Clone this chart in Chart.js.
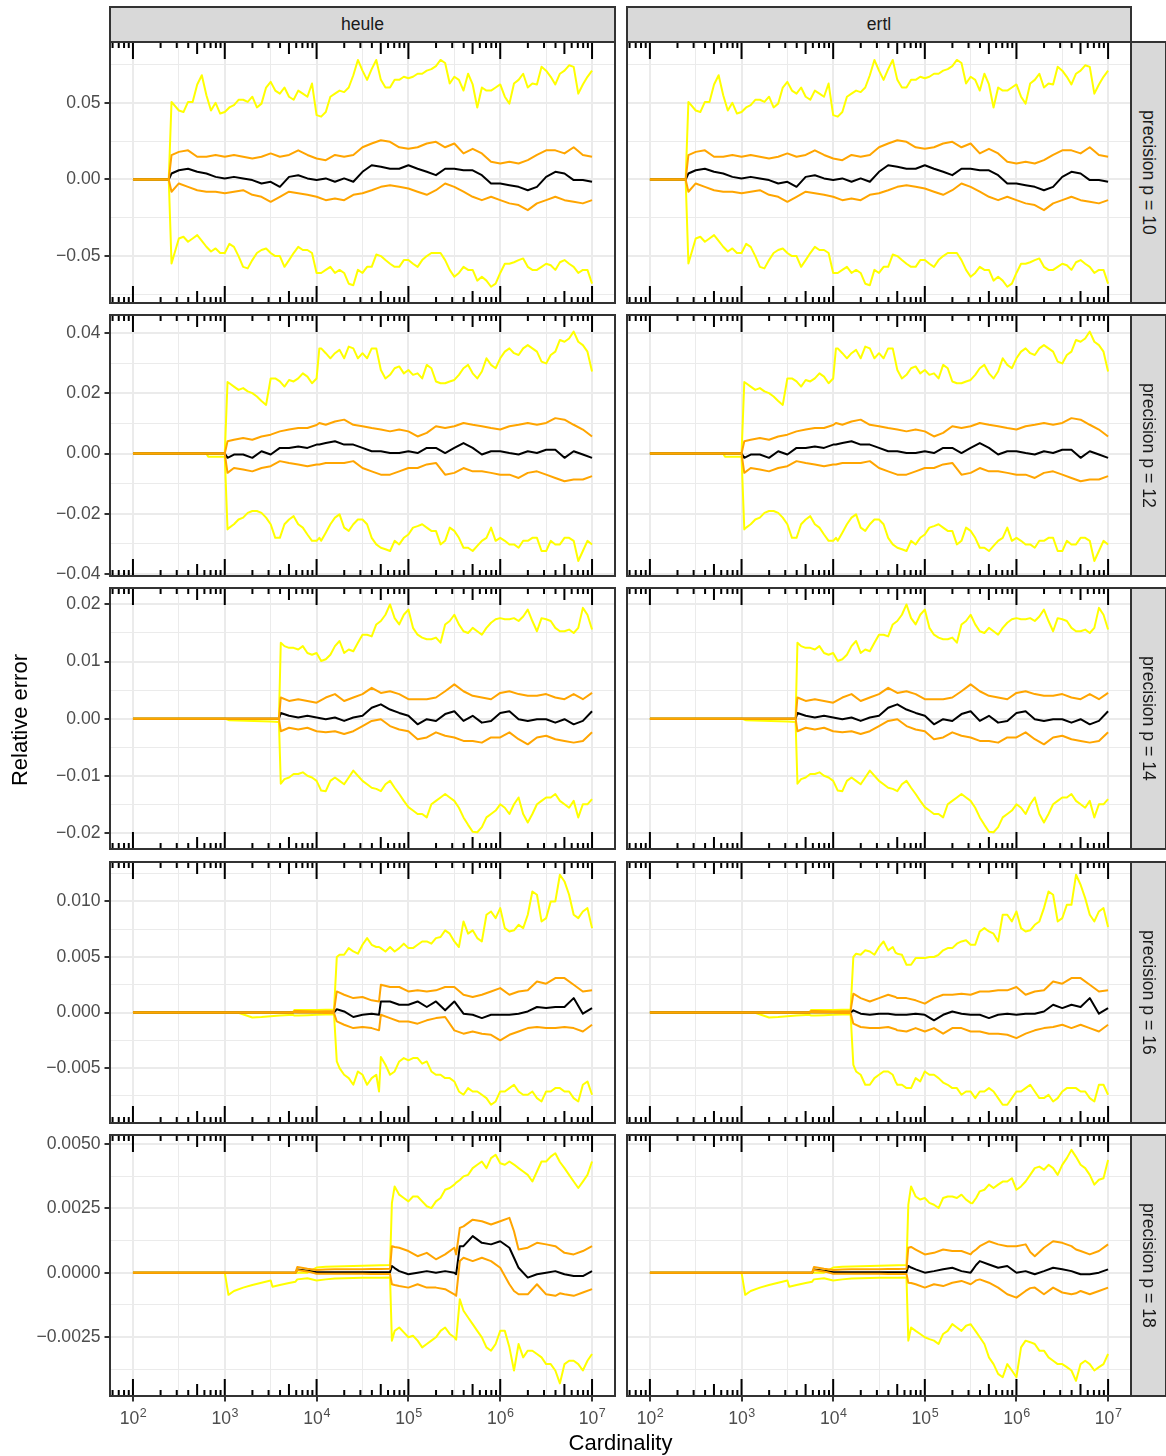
<!DOCTYPE html>
<html>
<head>
<meta charset="utf-8">
<title>Relative error vs cardinality</title>
<script src="https://cdn.jsdelivr.net/npm/chart.js@4.4.1/dist/chart.umd.min.js"></script>
<style>
  body { margin: 0; background: #fff; }
  #fig { position: relative; width: 1166px; height: 1456px; overflow: hidden; font-family: "Liberation Sans", Arial, sans-serif; }
  #fig canvas { position: absolute; }
  .strip { position: absolute; box-sizing: border-box; background: #d9d9d9; border: 2px solid #333; color: #1a1a1a; font-size: 17.6px; display: flex; align-items: center; justify-content: center; white-space: nowrap; }
  .side { writing-mode: vertical-rl; }
  .title { position: absolute; color: #000; font-size: 22px; line-height: 26px; text-align: center; white-space: nowrap; }
</style>
</head>
<body>
<div id="fig"></div>
<script>
// x positions are log10(cardinality)
const xMajor = [2, 3, 4, 5, 6, 7];
const xMinor = [2.5, 3.5, 4.5, 5.5, 6.5];
const xExponents = ['2', '3', '4', '5', '6', '7'];
const xRange = [1.75, 7.25];
const logTickSteps = [1, 2, 3, 4, 5, 6, 7, 8, 9];

const colLabels = ['heule', 'ertl'];
const rowLabels = ['precision p = 10', 'precision p = 12', 'precision p = 14', 'precision p = 16', 'precision p = 18'];

// y axes per precision
const yRangeP10 = [-0.0806, 0.0897];
const yMajorP10 = [-0.05, 0, 0.05];
const yLabelsP10 = ['−0.05', '0.00', '0.05'];
const yMinorP10 = [-0.075, -0.025, 0.025, 0.075];

const yRangeP12 = [-0.0407, 0.0461];
const yMajorP12 = [-0.04, -0.02, 0, 0.02, 0.04];
const yLabelsP12 = ['−0.04', '−0.02', '0.00', '0.02', '0.04'];
const yMinorP12 = [-0.03, -0.01, 0.01, 0.03];

const yRangeP14 = [-0.02283, 0.02288];
const yMajorP14 = [-0.02, -0.01, 0, 0.01, 0.02];
const yLabelsP14 = ['−0.02', '−0.01', '0.00', '0.01', '0.02'];
const yMinorP14 = [-0.015, -0.005, 0.005, 0.015];

const yRangeP16 = [-0.00994, 0.01355];
const yMajorP16 = [-0.005, 0, 0.005, 0.01];
const yLabelsP16 = ['−0.005', '0.000', '0.005', '0.010'];
const yMinorP16 = [-0.0075, -0.0025, 0.0025, 0.0075, 0.0125];

const yRangeP18 = [-0.00479, 0.005348];
const yMajorP18 = [-0.0025, 0, 0.0025, 0.005];
const yLabelsP18 = ['−0.0025', '0.0000', '0.0025', '0.0050'];
const yMinorP18 = [-0.00375, -0.00125, 0.00125, 0.00375];

// p = 10 (heule and ertl look the same); yellow lines read on a finer grid
const xP10 = [2.0, 2.1, 2.2, 2.3, 2.39, 2.42, 2.5, 2.6, 2.7, 2.8, 2.9, 3.0, 3.1, 3.2, 3.3, 3.4, 3.5, 3.6, 3.7, 3.8, 3.9, 4.0, 4.1, 4.2, 4.3, 4.4, 4.5, 4.6, 4.7, 4.8, 4.9, 5.0, 5.1, 5.2, 5.3, 5.4, 5.5, 5.6, 5.7, 5.8, 5.9, 6.0, 6.1, 6.2, 6.3, 6.4, 6.5, 6.6, 6.7, 6.8, 6.9, 7.0];
const xP10Y = [2.0, 2.1, 2.2, 2.3, 2.39, 2.42,
  2.5, 2.55, 2.6, 2.65, 2.7, 2.75, 2.8, 2.85, 2.9, 2.95, 3.0, 3.05, 3.1, 3.15, 3.2, 3.25, 3.3, 3.35, 3.4, 3.45,
  3.5, 3.55, 3.6, 3.65, 3.7, 3.75, 3.8, 3.85, 3.9, 3.95, 4.0, 4.05, 4.1, 4.15, 4.2, 4.25, 4.3, 4.35, 4.4, 4.45,
  4.5, 4.55, 4.6, 4.65, 4.7, 4.75, 4.8, 4.85, 4.9, 4.95, 5.0, 5.05, 5.1, 5.15, 5.2, 5.25, 5.3, 5.35, 5.4, 5.45,
  5.5, 5.55, 5.6, 5.65, 5.7, 5.75, 5.8, 5.85, 5.9, 5.95, 6.0, 6.05, 6.1, 6.15, 6.2, 6.25, 6.3, 6.35, 6.4, 6.45,
  6.5, 6.55, 6.6, 6.65, 6.7, 6.75, 6.8, 6.85, 6.9, 6.95, 7.0];
const p10Hi95 = [0, 0, 0, 0, 0, 0.0506,
  0.045, 0.044, 0.0506, 0.0506, 0.062, 0.068, 0.055, 0.045, 0.050, 0.043,
  0.044, 0.047, 0.0485, 0.052, 0.052, 0.0506, 0.054, 0.047, 0.0495, 0.060,
  0.0637, 0.058, 0.056, 0.060, 0.054, 0.052, 0.058, 0.056, 0.054, 0.0626,
  0.042, 0.041, 0.044, 0.054, 0.056, 0.058, 0.057, 0.060, 0.068, 0.078,
  0.071, 0.065, 0.072, 0.078, 0.065, 0.060, 0.060, 0.065, 0.065, 0.067,
  0.066, 0.067, 0.069, 0.069, 0.071, 0.072, 0.074, 0.078, 0.076, 0.0626,
  0.067, 0.065, 0.058, 0.069, 0.062, 0.047, 0.060, 0.058, 0.058, 0.060,
  0.062, 0.054, 0.0495, 0.0626, 0.065, 0.069, 0.060, 0.0626, 0.062, 0.0735,
  0.071, 0.067, 0.062, 0.069, 0.071, 0.0745, 0.0735, 0.056, 0.062, 0.067,
  0.071];
const p10Hi50 = [0, 0, 0, 0, 0, 0.0159, 0.018, 0.019, 0.0148, 0.0148, 0.0159, 0.0148, 0.016, 0.0148, 0.0137, 0.0148, 0.017, 0.0148, 0.016, 0.019, 0.016, 0.0137, 0.0126, 0.016, 0.0148, 0.016, 0.021, 0.0235, 0.0256, 0.0246, 0.021, 0.020, 0.021, 0.0235, 0.0246, 0.021, 0.0235, 0.017, 0.020, 0.017, 0.0115, 0.0104, 0.0115, 0.0104, 0.0126, 0.016, 0.019, 0.019, 0.017, 0.021, 0.016, 0.0148];
const p10Med = [0, 0, 0, 0, 0, 0.0039, 0.006, 0.007, 0.005, 0.0039, 0.0017, 0.0007, 0.0017, 0.0007, -0.0004, -0.0026, -0.0015, -0.0048, 0.0017, 0.0028, 0.0007, -0.0004, 0.0007, -0.0015, 0.0007, -0.0015, 0.005, 0.0093, 0.0083, 0.007, 0.007, 0.0093, 0.007, 0.005, 0.0028, 0.007, 0.007, 0.006, 0.006, 0.0028, -0.0026, -0.0026, -0.0037, -0.0048, -0.007, -0.0048, 0.0017, 0.005, 0.0039, -0.0004, -0.0004, -0.0015];
const p10Lo50 = [0, 0, 0, 0, 0, -0.008, -0.0026, -0.0048, -0.007, -0.008, -0.008, -0.009, -0.008, -0.007, -0.010, -0.0113, -0.0146, -0.0113, -0.008, -0.009, -0.010, -0.0113, -0.0135, -0.0124, -0.0135, -0.010, -0.009, -0.007, -0.0048, -0.0037, -0.0048, -0.0059, -0.008, -0.010, -0.007, -0.0026, -0.0048, -0.008, -0.0113, -0.0135, -0.0113, -0.0135, -0.0156, -0.0167, -0.020, -0.0156, -0.0135, -0.0113, -0.0135, -0.0146, -0.0156, -0.0135];
const p10Lo95 = [0, 0, 0, 0, 0, -0.0548,
  -0.0385, -0.0374, -0.0406, -0.0385, -0.0363, -0.040, -0.0439, -0.047, -0.045, -0.048,
  -0.048, -0.042, -0.044, -0.050, -0.057, -0.058, -0.0526, -0.048, -0.046, -0.045,
  -0.048, -0.050, -0.050, -0.057, -0.0526, -0.048, -0.044, -0.046, -0.046, -0.048,
  -0.061, -0.061, -0.059, -0.057, -0.061, -0.059, -0.061, -0.068, -0.069, -0.059,
  -0.061, -0.057, -0.057, -0.049, -0.050, -0.0526, -0.055, -0.057, -0.057, -0.0526,
  -0.0526, -0.055, -0.057, -0.0526, -0.050, -0.048, -0.048, -0.048, -0.0526, -0.059,
  -0.0635, -0.061, -0.057, -0.059, -0.059, -0.066, -0.0635, -0.066, -0.070, -0.068,
  -0.061, -0.055, -0.055, -0.054, -0.0526, -0.0515, -0.057, -0.059, -0.059, -0.057,
  -0.055, -0.056, -0.059, -0.054, -0.0526, -0.055, -0.057, -0.061, -0.059, -0.059,
  -0.068];

// p = 12
const xP12 = [2.0, 2.1, 2.2, 2.3, 2.4, 2.5, 2.6, 2.7, 2.8, 2.82, 3.0, 3.03, 3.1, 3.2, 3.3, 3.4, 3.5, 3.6, 3.7, 3.8, 3.9, 4.0, 4.03, 4.1, 4.2, 4.3, 4.4, 4.5, 4.6, 4.7, 4.8, 4.9, 5.0, 5.1, 5.2, 5.3, 5.4, 5.5, 5.6, 5.7, 5.8, 5.9, 6.0, 6.1, 6.2, 6.3, 6.4, 6.5, 6.6, 6.7, 6.8, 6.9, 7.0];
const xP12Y = [2.0, 2.1, 2.2, 2.3, 2.4, 2.5, 2.6, 2.7, 2.8, 2.82, 3.0, 3.03,
  3.05, 3.1, 3.15, 3.2, 3.25, 3.3, 3.35, 3.4, 3.45, 3.5, 3.55, 3.6, 3.65, 3.7, 3.75, 3.8, 3.85, 3.9, 3.95, 4.0,
  4.03,
  4.05, 4.1, 4.15, 4.2, 4.25, 4.3, 4.35, 4.4, 4.45, 4.5, 4.55, 4.6, 4.65, 4.7, 4.75, 4.8, 4.85, 4.9, 4.95, 5.0,
  5.05, 5.1, 5.15, 5.2, 5.25, 5.3, 5.35, 5.4, 5.45, 5.5, 5.55, 5.6, 5.65, 5.7, 5.75, 5.8, 5.85, 5.9, 5.95, 6.0,
  6.05, 6.1, 6.15, 6.2, 6.25, 6.3, 6.35, 6.4, 6.45, 6.5, 6.55, 6.6, 6.65, 6.7, 6.75, 6.8, 6.85, 6.9, 6.95, 7.0];
const p12Hi95 = [0, 0, 0, 0, 0, 0, 0, 0, 0, 0, 0, 0.0238,
  0.0234, 0.0223, 0.0212, 0.0218, 0.0207, 0.0201, 0.019, 0.0175, 0.0162, 0.025, 0.025, 0.024, 0.0223, 0.0245, 0.024, 0.025, 0.0267, 0.0256, 0.0234, 0.025,
  0.035,
  0.035, 0.0334, 0.0317, 0.0334, 0.0345, 0.0317, 0.0356, 0.035, 0.0317, 0.0334, 0.0317, 0.035, 0.035, 0.0278, 0.025, 0.0262, 0.0284, 0.029, 0.0267, 0.0278,
  0.0262, 0.0267, 0.025, 0.0295, 0.0284, 0.024, 0.0234, 0.0234, 0.024, 0.0245, 0.0262, 0.0284, 0.0295, 0.0267, 0.025, 0.0273, 0.0317, 0.0295, 0.0284, 0.0317,
  0.0339, 0.035, 0.0334, 0.0328, 0.035, 0.0361, 0.035, 0.0339, 0.0306, 0.030, 0.0328, 0.0339, 0.0378, 0.0372, 0.0383, 0.0406, 0.0372, 0.0361, 0.0339, 0.0273];
const p12Hi50 = [0, 0, 0, 0, 0, 0, 0, 0, 0, 0, 0, 0.0041, 0.0046, 0.0052, 0.0046, 0.0057, 0.0063, 0.0074, 0.008, 0.0085, 0.0085, 0.0095, 0.0102, 0.0096, 0.0107, 0.0113, 0.0096, 0.0091, 0.0085, 0.008, 0.0074, 0.008, 0.0074, 0.0057, 0.0069, 0.0091, 0.0085, 0.0091, 0.0102, 0.0096, 0.0091, 0.0085, 0.008, 0.0091, 0.0096, 0.0102, 0.0096, 0.0102, 0.0118, 0.0113, 0.0096, 0.008, 0.0057];
const p12Med = [0, 0, 0, 0, 0, 0, 0, 0, 0, 0, 0, -0.0014, -0.0003, -0.0003, -0.0014, 0.0008, -0.0003, 0.0019, 0.0019, 0.0024, 0.0019, 0.003, 0.003, 0.0035, 0.0041, 0.003, 0.003, 0.0019, 0.0008, 0.0008, 0.0002, 0.0002, 0.0008, 0.0002, 0.0019, 0.0019, 0.0002, 0.0019, 0.0035, 0.0019, -0.0003, 0.0008, 0.0008, 0.0002, -0.0003, 0.0008, 0.0002, 0.0013, 0.0013, -0.0014, 0.0008, -0.0003, -0.0014];
const p12Lo50 = [0, 0, 0, 0, 0, 0, 0, 0, 0, 0, 0, -0.0064, -0.0048, -0.0053, -0.0059, -0.0048, -0.0042, -0.0025, -0.0031, -0.0036, -0.0042, -0.0036, -0.0036, -0.0031, -0.0031, -0.0031, -0.0025, -0.0048, -0.0059, -0.007, -0.007, -0.0059, -0.0048, -0.0048, -0.0036, -0.0031, -0.007, -0.0064, -0.0048, -0.0059, -0.0059, -0.0064, -0.007, -0.007, -0.0081, -0.0064, -0.0059, -0.007, -0.0081, -0.0092, -0.0086, -0.0086, -0.0075];
const p12Lo95 = [0, 0, 0, 0, 0, 0, 0, 0, 0, -0.001, -0.001, -0.0252,
  -0.0246, -0.0235, -0.0219, -0.0213, -0.0197, -0.0191, -0.0191, -0.0197, -0.0213, -0.0235, -0.028, -0.028, -0.0235, -0.0219, -0.0208, -0.0235, -0.0246, -0.0269, -0.029, -0.029,
  -0.028,
  -0.029, -0.0263, -0.0235, -0.0213, -0.0202, -0.0246, -0.0257, -0.0235, -0.0219, -0.0219, -0.0235, -0.028, -0.0302, -0.0313, -0.0318, -0.0324, -0.029, -0.0302, -0.028, -0.0269,
  -0.0246, -0.0241, -0.0235, -0.0246, -0.0257, -0.0257, -0.0302, -0.029, -0.0246, -0.0257, -0.028, -0.0313, -0.0313, -0.0324, -0.0307, -0.029, -0.028, -0.0246, -0.029, -0.028,
  -0.029, -0.0302, -0.0302, -0.0313, -0.029, -0.029, -0.028, -0.028, -0.0324, -0.0324, -0.029, -0.0302, -0.0302, -0.028, -0.028, -0.029, -0.0357, -0.0324, -0.029, -0.0302];

// p = 14
const xP14 = [2.0, 2.1, 2.2, 2.3, 2.4, 2.5, 2.6, 2.7, 2.8, 2.9, 3.0, 3.05, 3.5, 3.59, 3.61, 3.7, 3.8, 3.9, 4.0, 4.1, 4.2, 4.3, 4.4, 4.5, 4.6, 4.7, 4.8, 4.9, 5.0, 5.1, 5.2, 5.3, 5.4, 5.5, 5.6, 5.7, 5.8, 5.9, 6.0, 6.1, 6.2, 6.3, 6.4, 6.5, 6.6, 6.7, 6.8, 6.9, 7.0];
const xP14Y = [2.0, 2.1, 2.2, 2.3, 2.4, 2.5, 2.6, 2.7, 2.8, 2.9, 3.0, 3.05, 3.5, 3.59, 3.61,
  3.65, 3.7, 3.75, 3.8, 3.85, 3.9, 3.95, 4.0, 4.05, 4.1, 4.15, 4.2, 4.25, 4.3, 4.35, 4.4, 4.45, 4.5, 4.55, 4.6,
  4.65, 4.7, 4.75, 4.8, 4.85, 4.9, 4.95, 5.0, 5.05, 5.1, 5.15, 5.2, 5.25, 5.3, 5.35, 5.4, 5.45, 5.5, 5.55, 5.6,
  5.65, 5.7, 5.75, 5.8, 5.85, 5.9, 5.95, 6.0, 6.05, 6.1, 6.15, 6.2, 6.25, 6.3, 6.35, 6.4, 6.45, 6.5, 6.55, 6.6,
  6.65, 6.7, 6.75, 6.8, 6.85, 6.9, 6.95, 7.0];
const p14Hi95 = [0, 0, 0, 0, 0, 0, 0, 0, 0, 0, 0, 0, 0, 0, 0.0133,
  0.0127, 0.0124, 0.0124, 0.0121, 0.0127, 0.0115, 0.0112, 0.0115, 0.0101, 0.0104, 0.0112, 0.0127, 0.0136, 0.0115, 0.0121, 0.0118, 0.0133, 0.0147, 0.0147, 0.0144,
  0.0165, 0.0171, 0.0182, 0.020, 0.0176, 0.0165, 0.0182, 0.0191, 0.0159, 0.0147, 0.0142, 0.0139, 0.0139, 0.0142, 0.0133, 0.0165, 0.0171, 0.0182, 0.0165, 0.0153,
  0.015, 0.0159, 0.0153, 0.0147, 0.0159, 0.0168, 0.0174, 0.0176, 0.0174, 0.0174, 0.0176, 0.0171, 0.0179, 0.0191, 0.0171, 0.0153, 0.0176, 0.0174, 0.0171, 0.0159,
  0.0153, 0.0153, 0.0156, 0.015, 0.0159, 0.0194, 0.0182, 0.0156];
const p14Hi50 = [0, 0, 0, 0, 0, 0, 0, 0, 0, 0, 0, 0, 0, 0, 0.0037, 0.0031, 0.0034, 0.0031, 0.0028, 0.0037, 0.0043, 0.0031, 0.0037, 0.0043, 0.0054, 0.0045, 0.0048, 0.0043, 0.0034, 0.0034, 0.0034, 0.0037, 0.0048, 0.006, 0.0048, 0.004, 0.0037, 0.0034, 0.0045, 0.0048, 0.0043, 0.004, 0.004, 0.0043, 0.0037, 0.0034, 0.0043, 0.0034, 0.0045];
const p14Med = [0, 0, 0, 0, 0, 0, 0, 0, 0, 0, 0, 0, 0, 0, 0.001, 0.0005, 0.0002, 0.0005, 0.0002, -0.0001, 0.0002, -0.0004, 0.0002, 0.0005, 0.0019, 0.0025, 0.0016, 0.001, 0.0005, -0.001, -0.0001, -0.0004, 0.0008, 0.0013, -0.0004, 0.0005, -0.0007, -0.0004, 0.001, 0.0013, -0.0001, -0.0004, -0.0001, -0.0001, -0.0007, -0.0001, -0.001, -0.0004, 0.0013];
const p14Lo50 = [0, 0, 0, 0, 0, 0, 0, 0, 0, 0, 0, 0, 0, 0, -0.0022, -0.0016, -0.0019, -0.0016, -0.0022, -0.0024, -0.0022, -0.0027, -0.0022, -0.0013, -0.0004, -0.0001, -0.0013, -0.0019, -0.0022, -0.0036, -0.0033, -0.0024, -0.003, -0.0033, -0.0039, -0.0039, -0.0042, -0.0033, -0.0033, -0.0024, -0.0036, -0.0045, -0.0033, -0.003, -0.0036, -0.0039, -0.0042, -0.0039, -0.0024];
const p14Lo95 = [0, 0, 0, 0, 0, 0, 0, 0, 0, 0, 0, -0.0003, -0.0005, -0.0006, -0.0114,
  -0.0106, -0.0103, -0.0097, -0.0097, -0.0094, -0.010, -0.0103, -0.0109, -0.0126, -0.0127, -0.0109, -0.0103, -0.0109, -0.0115, -0.0103, -0.0091, -0.010, -0.0109, -0.0115, -0.0121,
  -0.0123, -0.0127, -0.0115, -0.0109, -0.0121, -0.0132, -0.0144, -0.0155, -0.0161, -0.0167, -0.0167, -0.0173, -0.015, -0.0144, -0.0138, -0.0132, -0.0138, -0.0144, -0.0156, -0.0173,
  -0.0186, -0.0198, -0.0199, -0.019, -0.0173, -0.0167, -0.0161, -0.015, -0.0156, -0.0167, -0.015, -0.0138, -0.0167, -0.0182, -0.0167, -0.015, -0.0144, -0.0138, -0.0138, -0.0132,
  -0.0144, -0.015, -0.0156, -0.0144, -0.0173, -0.015, -0.015, -0.0141];

// p = 16
const xP16 = [2.0, 2.1, 2.2, 2.3, 2.4, 2.5, 2.6, 2.7, 2.8, 2.9, 3.0, 3.1, 3.14, 3.3, 3.4, 3.5, 3.6, 3.7, 3.74, 3.76, 3.8, 3.9, 4.0, 4.1, 4.19, 4.22, 4.3, 4.4, 4.5, 4.6, 4.68, 4.7, 4.8, 4.9, 5.0, 5.1, 5.2, 5.3, 5.4, 5.5, 5.6, 5.7, 5.8, 5.9, 6.0, 6.1, 6.2, 6.3, 6.4, 6.5, 6.6, 6.7, 6.8, 6.9, 7.0];
const xP16Y = [2.0, 2.1, 2.2, 2.3, 2.4, 2.5, 2.6, 2.7, 2.8, 2.9, 3.0, 3.1, 3.14, 3.3, 3.4, 3.5, 3.6, 3.7, 3.74, 3.76, 3.8, 3.9, 4.0, 4.1, 4.19, 4.22,
  4.25, 4.3, 4.35, 4.4, 4.45, 4.5, 4.55, 4.6, 4.65, 4.68, 4.7,
  4.75, 4.8, 4.85, 4.9, 4.95, 5.0, 5.05, 5.1, 5.15, 5.2, 5.25, 5.3, 5.35, 5.4, 5.45, 5.5, 5.55, 5.6, 5.65, 5.7,
  5.75, 5.8, 5.85, 5.9, 5.95, 6.0, 6.05, 6.1, 6.15, 6.2, 6.25, 6.3, 6.35, 6.4, 6.45, 6.5, 6.55, 6.6, 6.65, 6.7,
  6.75, 6.8, 6.85, 6.9, 6.95, 7.0];
const p16HeuleHi95 = [0, 0, 0, 0, 0, 0, 0, 0, 0, 0, 0, 0, 0, 0, 0, 0, 0, 0, 0, 0.00024, 0.00024, 0.00024, 0.00024, 0.00026, 0.00028, 0.005,
  0.0052, 0.0052, 0.0058, 0.0055, 0.0053, 0.0061, 0.0067, 0.0061, 0.0059, 0.0059, 0.0058,
  0.0055, 0.0059, 0.0055, 0.0058, 0.0062, 0.0058, 0.0058, 0.0061, 0.0064, 0.0064, 0.0062, 0.0067, 0.0068, 0.0074, 0.0071, 0.0064, 0.0059, 0.0082, 0.0071, 0.0074,
  0.0067, 0.0064, 0.0088, 0.0091, 0.0085, 0.0094, 0.0076, 0.0073, 0.0074, 0.0079, 0.0076, 0.0088, 0.0109, 0.0106, 0.0082, 0.0085, 0.010, 0.010, 0.0124, 0.0118,
  0.0106, 0.0088, 0.0085, 0.0091, 0.0094, 0.0076];
const p16HeuleHi50 = [0, 0, 0, 0, 0, 0, 0, 0, 0, 0, 0, 0, 0, 0, 0, 0, 0, 0, 0, 0.00015, 0.00015, 0.00012, 0.0001, 0.00012, 0.00015, 0.0019, 0.0016, 0.0013, 0.0014, 0.0011, 0.001, 0.0025, 0.0023, 0.0023, 0.0019, 0.002, 0.0019, 0.002, 0.0023, 0.0023, 0.0016, 0.0014, 0.0016, 0.0019, 0.0022, 0.0016, 0.0019, 0.002, 0.0028, 0.0026, 0.0031, 0.0031, 0.0025, 0.0019, 0.002];
const p16HeuleMed = [0, 0, 0, 0, 0, 0, 0, 0, 0, 0, 0, 0, 0, 0, 0, 0, 0, 0, 0, 0.00005, 0.00003, 0.00002, 0.00002, 0.00002, 0.00002, 0.0003, 0.0001, -0.0004, -0.0002, -0.0001, -0.0002, 0.001, 0.001, 0.0007, 0.0007, 0.001, 0.0005, 0.001, 0.0002, 0.001, -0.0001, -0.0002, -0.0005, -0.0002, -0.0002, -0.0002, -0.0001, 0.0001, 0.0005, 0.0004, 0.0005, 0.0005, 0.0013, -0.0001, 0.0004];
const p16HeuleLo50 = [0, 0, 0, 0, 0, 0, 0, 0, 0, 0, 0, 0, 0, 0, 0, 0, 0, 0, 0, 0.00005, 0, 0, 0, -0.00003, -0.00005, -0.0008, -0.0011, -0.0014, -0.0013, -0.0014, -0.0016, -0.0002, -0.0005, -0.0008, -0.0008, -0.001, -0.0007, -0.0005, -0.0004, -0.0016, -0.0019, -0.0017, -0.0019, -0.002, -0.0025, -0.002, -0.0017, -0.0014, -0.0013, -0.0014, -0.0014, -0.0013, -0.0014, -0.0017, -0.0011];
const p16HeuleLo95 = [0, 0, 0, 0, 0, 0, 0, 0, 0, 0, 0, 0, 0, -0.00045, -0.0004, -0.00033, -0.00027, -0.00022, -0.0002, -0.00027, -0.00027, -0.00024, -0.0002, -0.00018, -0.00015, -0.0044,
  -0.005, -0.0056, -0.0059, -0.0065, -0.0053, -0.0056, -0.0065, -0.0059, -0.0056, -0.0071, -0.004,
  -0.0047, -0.0056, -0.0053, -0.0044, -0.0041, -0.0043, -0.0041, -0.0041, -0.0046, -0.0044, -0.0053, -0.0056, -0.0056, -0.0059, -0.0059, -0.0062, -0.0071, -0.0074, -0.0068, -0.0071,
  -0.0071, -0.0074, -0.0077, -0.0083, -0.008, -0.0071, -0.0071, -0.0068, -0.0065, -0.0071, -0.0074, -0.0074, -0.0071, -0.0077, -0.008, -0.0071, -0.0071, -0.0068, -0.0068, -0.0071,
  -0.0071, -0.0077, -0.008, -0.0065, -0.0062, -0.0074];
const p16ErtlHi95 = [0, 0, 0, 0, 0, 0, 0, 0, 0, 0, 0, 0, 0, 0, 0, 0, 0, 0, 0, 0.00024, 0.00024, 0.00024, 0.00024, 0.00026, 0.00028, 0.005,
  0.0053, 0.0052, 0.0056, 0.0055, 0.0052, 0.0059, 0.0064, 0.0056, 0.0059, 0.0054, 0.0053,
  0.0052, 0.0043, 0.0043, 0.0049, 0.0049, 0.0049, 0.005, 0.005, 0.0052, 0.0056, 0.0058, 0.0058, 0.0062, 0.0064, 0.0065, 0.0061, 0.0061, 0.0073, 0.0076, 0.0073,
  0.0071, 0.0064, 0.0088, 0.0088, 0.0082, 0.0091, 0.0076, 0.0073, 0.0074, 0.0079, 0.0082, 0.0094, 0.0109, 0.0106, 0.0082, 0.0085, 0.0097, 0.0097, 0.0124, 0.0115,
  0.0103, 0.0088, 0.0082, 0.0091, 0.0094, 0.0077];
const p16ErtlHi50 = [0, 0, 0, 0, 0, 0, 0, 0, 0, 0, 0, 0, 0, 0, 0, 0, 0, 0, 0, 0.00015, 0.00015, 0.00012, 0.0001, 0.00012, 0.00015, 0.0017, 0.0013, 0.001, 0.0013, 0.0016, 0.0014, 0.0013, 0.0013, 0.0011, 0.0008, 0.0013, 0.0016, 0.0016, 0.0017, 0.0016, 0.0019, 0.0019, 0.002, 0.002, 0.0023, 0.0016, 0.0019, 0.002, 0.0028, 0.0026, 0.0031, 0.0031, 0.0025, 0.0019, 0.002];
const p16ErtlMed = [0, 0, 0, 0, 0, 0, 0, 0, 0, 0, 0, 0, 0, 0, 0, 0, 0, 0, 0, 0.00005, 0.00003, 0.00002, 0.00002, 0.00002, 0.00002, 0.0002, -0.0001, -0.0002, -0.0001, -0.0001, -0.0002, -0.0002, -0.0002, -0.0001, -0.0002, -0.0007, -0.0002, 0.0001, -0.0001, -0.0002, -0.0002, -0.0005, -0.0002, -0.0001, -0.0002, -0.0001, -0.0001, 0.0001, 0.0007, 0.0004, 0.0007, 0.0005, 0.0013, -0.0001, 0.0004];
const p16ErtlLo50 = [0, 0, 0, 0, 0, 0, 0, 0, 0, 0, 0, 0, 0, 0, 0, 0, 0, 0, 0, 0.00005, 0, 0, 0, -0.00003, -0.00005, -0.001, -0.0013, -0.0014, -0.0014, -0.0013, -0.0015, -0.0016, -0.0017, -0.0014, -0.0017, -0.0014, -0.0019, -0.0014, -0.0014, -0.0017, -0.0017, -0.0019, -0.0019, -0.002, -0.0023, -0.0019, -0.0016, -0.0014, -0.0013, -0.0011, -0.0014, -0.0011, -0.0014, -0.0017, -0.0011];
const p16ErtlLo95 = [0, 0, 0, 0, 0, 0, 0, 0, 0, 0, 0, 0, 0, -0.00045, -0.0004, -0.00033, -0.00027, -0.00022, -0.0002, -0.00027, -0.00027, -0.00024, -0.0002, -0.00018, -0.00015, -0.0047,
  -0.0053, -0.0056, -0.0065, -0.0065, -0.0059, -0.0056, -0.0053, -0.0053, -0.0056, -0.0062, -0.0065,
  -0.0065, -0.0068, -0.0068, -0.0059, -0.0062, -0.0053, -0.0056, -0.0056, -0.0059, -0.0063, -0.0065, -0.0068, -0.0068, -0.0074, -0.0071, -0.0071, -0.0077, -0.0071, -0.0071, -0.0068,
  -0.0071, -0.0077, -0.0083, -0.0083, -0.0077, -0.0071, -0.0071, -0.0068, -0.0065, -0.0071, -0.0077, -0.0077, -0.0074, -0.008, -0.0077, -0.0071, -0.0068, -0.0068, -0.0068, -0.0071,
  -0.0071, -0.0077, -0.008, -0.0065, -0.0065, -0.0074];

// p = 18
const xP18 = [2.0, 2.1, 2.2, 2.3, 2.4, 2.5, 2.6, 2.7, 2.8, 2.9, 3.0, 3.04, 3.1, 3.2, 3.3, 3.4, 3.5, 3.52, 3.6, 3.7, 3.77, 3.79, 3.9, 4.0, 4.1, 4.2, 4.3, 4.4, 4.5, 4.6, 4.7, 4.8, 4.82, 4.85, 4.9, 5.0, 5.1, 5.2, 5.3, 5.4, 5.5, 5.52, 5.56, 5.6, 5.7, 5.8, 5.9, 6.0, 6.1, 6.15, 6.2, 6.3, 6.4, 6.5, 6.6, 6.65, 6.7, 6.8, 6.9, 7.0];
const xP18Y = [2.0, 2.1, 2.2, 2.3, 2.4, 2.5, 2.6, 2.7, 2.8, 2.9, 3.0, 3.04, 3.1, 3.2, 3.3, 3.4, 3.5, 3.52, 3.6, 3.7, 3.77, 3.79, 3.9, 4.0, 4.1, 4.2, 4.3, 4.4, 4.5, 4.6, 4.7, 4.8,
  4.82, 4.85, 4.9, 4.95, 5.0, 5.05, 5.1, 5.15, 5.2, 5.25, 5.3, 5.35, 5.4, 5.45, 5.5, 5.52, 5.56,
  5.6, 5.65, 5.7, 5.75, 5.8, 5.85, 5.9, 5.95, 6.0, 6.05, 6.1, 6.15, 6.2, 6.25, 6.3, 6.35, 6.4, 6.45, 6.5, 6.55,
  6.6, 6.65, 6.7, 6.75, 6.8, 6.85, 6.9, 6.95, 7.0];
const p18HeuleHi95 = [0, 0, 0, 0, 0, 0, 0, 0, 0, 0, 0, 0, 0, 0, 0, 0, 0, 0, 0, 0, 0, 0, 0, 0.0002, 0.00023, 0.00024, 0.00025, 0.00026, 0.00027, 0.00028, 0.00029, 0.0003,
  0.0027, 0.00335, 0.00303, 0.0029, 0.00277, 0.00296, 0.00296, 0.00277, 0.00258, 0.00251, 0.00277, 0.0029, 0.00322, 0.00329, 0.00342, 0.0035, 0.0036,
  0.00374, 0.0038, 0.00406, 0.00419, 0.00432, 0.00406, 0.00445, 0.00458, 0.00425, 0.00419, 0.00432, 0.0042, 0.00406, 0.00393, 0.0038, 0.00354, 0.00393, 0.00432, 0.00432, 0.00451,
  0.00464, 0.0043, 0.00406, 0.0038, 0.00354, 0.00329, 0.00354, 0.0038, 0.00432];
const p18HeuleHi50 = [0, 0, 0, 0, 0, 0, 0, 0, 0, 0, 0, 0, 0, 0, 0, 0, 0, 0, 0, 0, 0, 0.00022, 0.00015, 0.0001, 0.00012, 0.00013, 0.00013, 0.00013, 0.00013, 0.00014, 0.00014, 0.00015, 0.00103, 0.001, 0.00097, 0.00084, 0.00064, 0.00077, 0.00052, 0.00071, 0.00097, 0.00071, 0.00174, 0.0018, 0.00206, 0.002, 0.00187, 0.002, 0.00213, 0.00161, 0.0009, 0.00097, 0.00116, 0.0011, 0.00103, 0.0009, 0.00077, 0.00071, 0.00084, 0.00103];
const p18HeuleMed = [0, 0, 0, 0, 0, 0, 0, 0, 0, 0, 0, 0, 0, 0, 0, 0, 0, 0, 0, 0, 0, 0.00012, 0.00008, 0.00002, 0.00002, 0.00002, 0.00002, 0.00002, 0.00002, 0.00002, 0.00002, 0.00002, 0.00026, 0.00018, 0.00006, -0.00006, 0, 0.00006, 0, 0.00006, 0, -0.00006, 0.00103, 0.00103, 0.00142, 0.00116, 0.0011, 0.00122, 0.00097, 0.00058, 0.00019, -0.00019, -0.00006, 0, 0.00006, 0, -0.00006, -0.00013, -0.00013, 0.00006];
const p18HeuleLo50 = [0, 0, 0, 0, 0, 0, 0, 0, 0, 0, 0, 0, 0, 0, 0, 0, 0, 0, 0, 0, 0, 0.0001, 0.00005, -0.00004, -0.00004, -0.00004, -0.00004, -0.00004, -0.00004, -0.00005, -0.00005, -0.00005, -0.00045, -0.00048, -0.00052, -0.00058, -0.00045, -0.00058, -0.00058, -0.00064, -0.00084, -0.0009, 0.00045, 0.00058, 0.00045, 0.00058, 0.00045, 0.00019, -0.00045, -0.00071, -0.00084, -0.00084, -0.00045, -0.00084, -0.0009, -0.0008, -0.00084, -0.0009, -0.00077, -0.00064];
const p18HeuleLo95 = [0, 0, 0, 0, 0, 0, 0, 0, 0, 0, 0, -0.00086, -0.00071, -0.00058, -0.00048, -0.00039, -0.0003, -0.00055, -0.00048, -0.0004, -0.00035, -0.00026, -0.00022, -0.0003, -0.00026, -0.00023, -0.00022, -0.00021, -0.0002, -0.0002, -0.0002, -0.00019,
  -0.00264, -0.00226, -0.00213, -0.00232, -0.00251, -0.00245, -0.00264, -0.0029, -0.00277, -0.00264, -0.00251, -0.00226, -0.00213, -0.00238, -0.00251, -0.0026, -0.00103,
  -0.00148, -0.00174, -0.002, -0.00226, -0.00251, -0.0029, -0.00303, -0.00277, -0.00226, -0.00226, -0.0029, -0.0038, -0.00277, -0.00329, -0.00303, -0.00303, -0.00316, -0.00329, -0.00355, -0.00355,
  -0.0038, -0.0043, -0.00355, -0.00342, -0.00342, -0.00355, -0.0038, -0.00342, -0.00316];
const p18ErtlHi95 = [0, 0, 0, 0, 0, 0, 0, 0, 0, 0, 0, 0, 0, 0, 0, 0, 0, 0, 0, 0, 0, 0, 0, 0.0002, 0.00023, 0.00024, 0.00025, 0.00026, 0.00027, 0.00028, 0.00029, 0.0003,
  0.00264, 0.00335, 0.00296, 0.00284, 0.0029, 0.00271, 0.00264, 0.00251, 0.0029, 0.00296, 0.00296, 0.0029, 0.00303, 0.00284, 0.00271, 0.0027, 0.0029,
  0.00316, 0.00322, 0.00342, 0.00329, 0.00342, 0.00354, 0.00354, 0.00367, 0.00322, 0.00335, 0.00354, 0.0038, 0.00406, 0.00412, 0.004, 0.00419, 0.00406, 0.0038, 0.00419, 0.00445,
  0.00477, 0.0045, 0.00419, 0.00406, 0.0038, 0.00342, 0.00361, 0.00367, 0.00438];
const p18ErtlHi50 = [0, 0, 0, 0, 0, 0, 0, 0, 0, 0, 0, 0, 0, 0, 0, 0, 0, 0, 0, 0, 0, 0.00022, 0.00015, 0.0001, 0.00012, 0.00013, 0.00013, 0.00013, 0.00013, 0.00014, 0.00014, 0.00015, 0.00097, 0.001, 0.0009, 0.00071, 0.00077, 0.0009, 0.00084, 0.00084, 0.00071, 0.0008, 0.0009, 0.00103, 0.00122, 0.0011, 0.00103, 0.00103, 0.0011, 0.0008, 0.00064, 0.00097, 0.00122, 0.00116, 0.00103, 0.0009, 0.00084, 0.00071, 0.00084, 0.0011];
const p18ErtlMed = [0, 0, 0, 0, 0, 0, 0, 0, 0, 0, 0, 0, 0, 0, 0, 0, 0, 0, 0, 0, 0, 0.00012, 0.00008, 0.00002, 0.00002, 0.00002, 0.00002, 0.00002, 0.00002, 0.00002, 0.00002, 0.00002, 0.00026, 0.0002, 0.00013, 0, 0.00006, 0.00013, 0.00019, 0.00006, 0, 0.0001, 0.0003, 0.00045, 0.00032, 0.00019, 0.00026, 0, 0.00006, 0, -0.00006, 0.00006, 0.00019, 0.00013, 0.00006, 0, -0.00006, -0.00006, 0, 0.00013];
const p18ErtlLo50 = [0, 0, 0, 0, 0, 0, 0, 0, 0, 0, 0, 0, 0, 0, 0, 0, 0, 0, 0, 0, 0, 0.0001, 0.00005, -0.00004, -0.00004, -0.00004, -0.00004, -0.00004, -0.00004, -0.00005, -0.00005, -0.00005, -0.00039, -0.0004, -0.00045, -0.00058, -0.00045, -0.00052, -0.00039, -0.00032, -0.00045, -0.0004, -0.0003, -0.00026, -0.00039, -0.00058, -0.00084, -0.00097, -0.00071, -0.0006, -0.00058, -0.00084, -0.00058, -0.00077, -0.00084, -0.0008, -0.00071, -0.00084, -0.00071, -0.00058];
const p18ErtlLo95 = [0, 0, 0, 0, 0, 0, 0, 0, 0, 0, 0, -0.00086, -0.00071, -0.00058, -0.00048, -0.00039, -0.0003, -0.00055, -0.00048, -0.0004, -0.00035, -0.00026, -0.00022, -0.0003, -0.00026, -0.00023, -0.00022, -0.00021, -0.0002, -0.0002, -0.0002, -0.00019,
  -0.00264, -0.00213, -0.00226, -0.00238, -0.00251, -0.00258, -0.00264, -0.00277, -0.00238, -0.00226, -0.002, -0.00213, -0.00226, -0.00206, -0.002, -0.0021, -0.0023,
  -0.00251, -0.00277, -0.00329, -0.00355, -0.00393, -0.00406, -0.00355, -0.0038, -0.00406, -0.0029, -0.00264, -0.0027, -0.00277, -0.00303, -0.00303, -0.00329, -0.00342, -0.00355, -0.00355, -0.00367,
  -0.0038, -0.0042, -0.00355, -0.00342, -0.00355, -0.0038, -0.00367, -0.00355, -0.00316];

// layout of the facet grid (pixels)
const ROW_TOP = [42, 315, 588, 862, 1135];
const PANEL_H = 261;
const COL_LEFT = [110, 627];
const PANEL_W = [505, 504];

const yAxes = [
  {range: yRangeP10, major: yMajorP10, labels: yLabelsP10, minor: yMinorP10},
  {range: yRangeP12, major: yMajorP12, labels: yLabelsP12, minor: yMinorP12},
  {range: yRangeP14, major: yMajorP14, labels: yLabelsP14, minor: yMinorP14},
  {range: yRangeP16, major: yMajorP16, labels: yLabelsP16, minor: yMinorP16},
  {range: yRangeP18, major: yMajorP18, labels: yLabelsP18, minor: yMinorP18}
];

// series order: hi95, hi50, median, lo50, lo95 (each with its own x list)
const panels = [
  {row: 0, col: 0, x: [xP10Y, xP10, xP10, xP10, xP10Y], s: [p10Hi95, p10Hi50, p10Med, p10Lo50, p10Lo95]},
  {row: 0, col: 1, x: [xP10Y, xP10, xP10, xP10, xP10Y], s: [p10Hi95, p10Hi50, p10Med, p10Lo50, p10Lo95]},
  {row: 1, col: 0, x: [xP12Y, xP12, xP12, xP12, xP12Y], s: [p12Hi95, p12Hi50, p12Med, p12Lo50, p12Lo95]},
  {row: 1, col: 1, x: [xP12Y, xP12, xP12, xP12, xP12Y], s: [p12Hi95, p12Hi50, p12Med, p12Lo50, p12Lo95]},
  {row: 2, col: 0, x: [xP14Y, xP14, xP14, xP14, xP14Y], s: [p14Hi95, p14Hi50, p14Med, p14Lo50, p14Lo95]},
  {row: 2, col: 1, x: [xP14Y, xP14, xP14, xP14, xP14Y], s: [p14Hi95, p14Hi50, p14Med, p14Lo50, p14Lo95]},
  {row: 3, col: 0, x: [xP16Y, xP16, xP16, xP16, xP16Y], s: [p16HeuleHi95, p16HeuleHi50, p16HeuleMed, p16HeuleLo50, p16HeuleLo95]},
  {row: 3, col: 1, x: [xP16Y, xP16, xP16, xP16, xP16Y], s: [p16ErtlHi95, p16ErtlHi50, p16ErtlMed, p16ErtlLo50, p16ErtlLo95]},
  {row: 4, col: 0, x: [xP18Y, xP18, xP18, xP18, xP18Y], s: [p18HeuleHi95, p18HeuleHi50, p18HeuleMed, p18HeuleLo50, p18HeuleLo95]},
  {row: 4, col: 1, x: [xP18Y, xP18, xP18, xP18, xP18Y], s: [p18ErtlHi95, p18ErtlHi50, p18ErtlMed, p18ErtlLo50, p18ErtlLo95]}
];

const fig = document.getElementById('fig');
const TICK_FONT = {family: 'Liberation Sans', size: 17.6};

function isDecade(v) {
  const e = Math.log10(v);
  return Math.abs(e - Math.round(e)) < 1e-6;
}

// panel border + annotation_logticks style ticks, top and bottom
const frame = {
  id: 'frame',
  afterDatasetsDraw(chart) {
    const {ctx, chartArea: a, scales: {x}} = chart;
    ctx.save();
    ctx.beginPath();
    ctx.rect(a.left, a.top, a.right - a.left, a.bottom - a.top);
    ctx.clip();
    ctx.strokeStyle = '#000';
    ctx.lineWidth = 2;
    for (let k = 1; k <= 7; k++) {
      for (const m of logTickSteps) {
        const px = x.getPixelForValue(m * Math.pow(10, k));
        if (px < a.left || px > a.right) continue;
        const len = m === 1 ? 17 : (m === 5 ? 12 : 6);
        ctx.beginPath();
        ctx.moveTo(px, a.top); ctx.lineTo(px, a.top + len);
        ctx.moveTo(px, a.bottom); ctx.lineTo(px, a.bottom - len);
        ctx.stroke();
      }
    }
    ctx.restore();
    ctx.save();
    ctx.strokeStyle = '#333';
    ctx.lineWidth = 2;
    ctx.strokeRect(a.left, a.top, a.right - a.left, a.bottom - a.top);
    ctx.restore();
  }
};

// x labels as 10 with a raised exponent, placed by the x scale
const powerLabels = {
  id: 'powerLabels',
  afterDraw(chart) {
    if (!chart.options.showPowerLabels) return;
    const {ctx, chartArea: a, scales: {x}} = chart;
    ctx.save();
    ctx.fillStyle = '#4d4d4d';
    ctx.textBaseline = 'alphabetic';
    ctx.textAlign = 'left';
    const base = a.bottom + 28;
    xMajor.forEach((e, i) => {
      const px = x.getPixelForValue(Math.pow(10, e));
      ctx.font = '17.6px "Liberation Sans"';
      const w1 = ctx.measureText('10').width;
      ctx.font = '12.5px "Liberation Sans"';
      const w2 = ctx.measureText(xExponents[i]).width;
      const start = px - (w1 + w2) / 2;
      ctx.font = '17.6px "Liberation Sans"';
      ctx.fillText('10', start, base);
      ctx.font = '12.5px "Liberation Sans"';
      ctx.fillText(xExponents[i], start + w1 + 0.5, base - 7);
    });
    ctx.restore();
  }
};

function drawPanel(p) {
  const {row, col} = p;
  const bottomRow = row === 4;
  const yr = yAxes[row];
  const cv = document.createElement('canvas');
  const left = col === 0 ? 0 : 620;
  const width = col === 0 ? 620 : 516;
  const height = PANEL_H + 10 + (bottomRow ? 40 : 0);
  cv.width = width;
  cv.height = height;
  cv.style.left = left + 'px';
  cv.style.top = (ROW_TOP[row] - 5) + 'px';
  fig.appendChild(cv);

  // first dataset is drawn on top: orange, black, then yellow
  const pick = [1, 3, 2, 0, 4];
  const colors = ['#ffa500', '#ffa500', '#000000', '#ffff00', '#ffff00'];
  const datasets = pick.map((si, k) => ({
    data: p.x[si].map((e, i) => ({x: Math.pow(10, e), y: p.s[si][i]})),
    borderColor: colors[k],
    borderWidth: 2,
    borderJoinStyle: 'round',
    pointRadius: 0,
    tension: 0,
    fill: false
  }));

  new Chart(cv, {
    type: 'line',
    data: {datasets},
    options: {
      responsive: false,
      animation: false,
      devicePixelRatio: 1,
      events: [],
      showPowerLabels: bottomRow,
      layout: {padding: {left: 0, right: 5, top: 5, bottom: 5}},
      plugins: {legend: {display: false}, tooltip: {enabled: false}},
      scales: {
        x: {
          type: 'logarithmic',
          min: Math.pow(10, xRange[0]),
          max: Math.pow(10, xRange[1]),
          afterBuildTicks: s => {
            s.ticks = xMajor.concat(xMinor).sort((a, b) => a - b).map(e => ({value: Math.pow(10, e)}));
          },
          afterFit: s => { s.height = bottomRow ? 40 : 0; s.paddingLeft = 0; s.paddingRight = 0; },
          border: {display: false},
          grid: {
            color: '#ebebeb',
            lineWidth: c => (c.tick && isDecade(c.tick.value)) ? 2 : 1,
            drawTicks: bottomRow,
            tickLength: 5.5,
            tickWidth: 2,
            tickColor: c => (c.tick && isDecade(c.tick.value)) ? '#333333' : 'rgba(0,0,0,0)'
          },
          ticks: {display: false, autoSkip: false, maxRotation: 0}
        },
        y: {
          type: 'linear',
          min: yr.range[0],
          max: yr.range[1],
          afterBuildTicks: s => {
            s.ticks = yr.major.concat(yr.minor).sort((a, b) => a - b).map(v => ({value: v}));
          },
          afterFit: s => { s.width = col === 0 ? 110 : 7; s.paddingTop = 0; s.paddingBottom = 0; },
          border: {display: false},
          grid: {
            color: '#ebebeb',
            lineWidth: c => (c.tick && yr.major.some(m => Math.abs(m - c.tick.value) < 1e-9)) ? 2 : 1,
            drawTicks: col === 0,
            tickLength: 5.5,
            tickWidth: 2,
            tickColor: c => (c.tick && yr.major.some(m => Math.abs(m - c.tick.value) < 1e-9)) ? '#333333' : 'rgba(0,0,0,0)'
          },
          ticks: {
            display: col === 0,
            autoSkip: false,
            padding: 4,
            color: '#4d4d4d',
            font: TICK_FONT,
            callback: v => {
              const i = yr.major.findIndex(m => Math.abs(m - v) < 1e-9);
              return i >= 0 ? yr.labels[i] : '';
            }
          }
        }
      }
    },
    plugins: [frame, powerLabels]
  });
}

panels.forEach(drawPanel);

function addDiv(cls, text, l, t, w, h, extra) {
  const d = document.createElement('div');
  d.className = cls;
  d.textContent = text;
  d.style.left = l + 'px';
  d.style.top = t + 'px';
  d.style.width = w + 'px';
  if (h) d.style.height = h + 'px';
  if (extra) Object.assign(d.style, extra);
  fig.appendChild(d);
}

colLabels.forEach((lab, c) => addDiv('strip', lab, COL_LEFT[c] - 1, 6, PANEL_W[c] + 2, 37));
rowLabels.forEach((lab, r) => addDiv('strip side', lab, 1130, ROW_TOP[r] - 1, 37, PANEL_H + 2));

addDiv('title', 'Cardinality', COL_LEFT[0], 1430, COL_LEFT[1] + PANEL_W[1] - COL_LEFT[0]);
addDiv('title', 'Relative error', 20 - 200, 720 - 13, 400, 0, {transform: 'rotate(-90deg)', height: '26px'});
</script>
</body>
</html>
